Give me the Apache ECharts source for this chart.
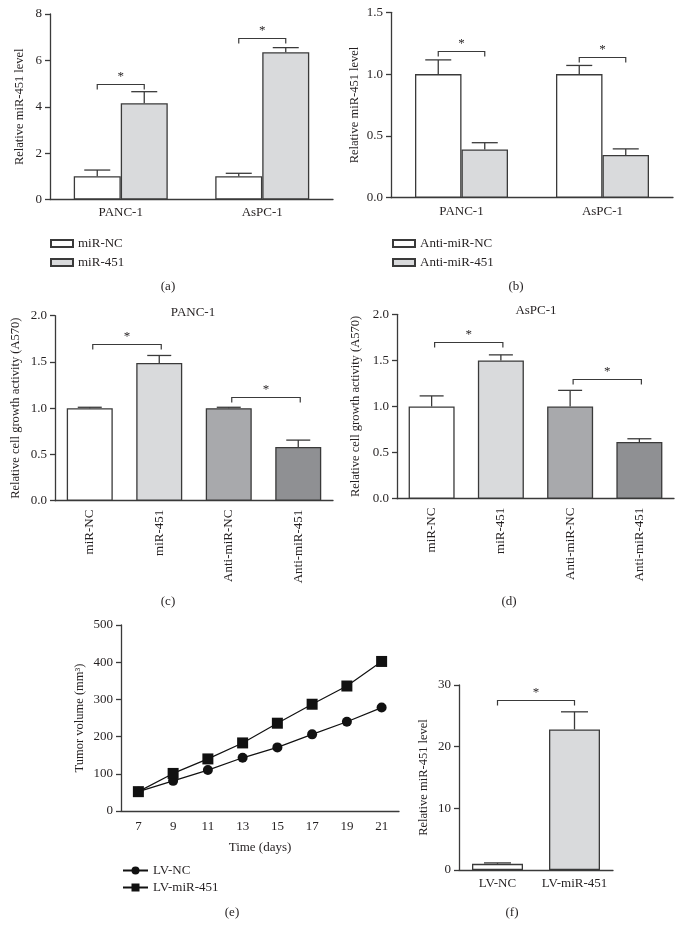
<!DOCTYPE html>
<html>
<head>
<meta charset="utf-8">
<script src="https://cdn.jsdelivr.net/npm/echarts@6/dist/echarts.min.js"></script>
<style>
  html, body { margin: 0; padding: 0; background: #fff; }
  #main { width: 683px; height: 939px; }
</style>
</head>
<body>
<div id="main"></div>
<script>
// ---- data ----
var cellLines = ['PANC-1', 'AsPC-1'];
// (a) overexpression
var aNC = [1.0, 1.0];
var aNCErr = [0.27, 0.13];
var a451 = [4.15, 6.35];
var a451Err = [0.5, 0.2];
var aSig = [5.0, 6.95];          // bracket heights
// (b) inhibition
var bNC = [1.0, 1.0];
var bNCErr = [0.115, 0.07];
var b451 = [0.39, 0.345];
var b451Err = [0.055, 0.05];
var bSig = [1.19, 1.14];
// (c)/(d) growth
var growthCats = ['miR-NC', 'miR-451', 'Anti-miR-NC', 'Anti-miR-451'];
var cVals = [1.0, 1.49, 1.0, 0.58];
var cErr = [0.01, 0.08, 0.01, 0.075];
var cSig = [[0, 1, 1.69], [2, 3, 1.125]];
var dVals = [1.0, 1.5, 1.0, 0.615];
var dErr = [0.115, 0.06, 0.175, 0.035];
var dSig = [[0, 1, 1.70], [2, 3, 1.30]];
// (e) tumor volume
var days = ['7', '9', '11', '13', '15', '17', '19', '21'];
var lvNC = [52, 81, 110, 143, 171, 206, 240, 278];
var lv451 = [52, 101, 140, 183, 236, 287, 336, 402];
// (f) in vivo level
var lvCats = ['LV-NC', 'LV-miR-451'];
var fVals = [1.0, 22.8];
var fErr = [0.15, 2.85];
var fSig = [[0, 1, 27.6]];

// ---- styles ----
var FONT = '"Liberation Serif", "DejaVu Serif", serif';
var FS = 13;
var TXT = '#231f20';
var LINE = '#3a3a3a';
var WHITE = '#ffffff', LIGHT = '#d9dadc', MID = '#a8a9ac', DARK = '#8f9093';

var chart = echarts.init(document.getElementById('main'));

/** 误差线 [idx, mean, mean+err] */
function errData(vals, errs) {
    return vals.map(function (v, i) { return [i, v, +(v + errs[i]).toFixed(3)]; });
}
function errSeries(name, grid, vals, errs, off, cap) {
    return {
        name: name, type: 'custom', xAxisIndex: grid, yAxisIndex: grid, z: 5,
        encode: { x: 0, y: 2 }, silent: true,
        renderItem: function (params, api) {
            var lo = api.coord([api.value(0), api.value(1)]);
            var hi = api.coord([api.value(0), api.value(2)]);
            var x = lo[0] + off;
            var st = { stroke: LINE, lineWidth: 1.3 };
            return { type: 'group', children: [
                { type: 'line', shape: { x1: x, y1: lo[1], x2: x, y2: hi[1] }, style: st },
                { type: 'line', shape: { x1: x - cap / 2, y1: hi[1], x2: x + cap / 2, y2: hi[1] }, style: st }
            ] };
        },
        data: errData(vals, errs)
    };
}
/** 显著性括号 [idx0, idx1, y] */
function sigSeries(name, grid, data, off0, off1) {
    return {
        name: name, type: 'custom', xAxisIndex: grid, yAxisIndex: grid, z: 5,
        encode: { x: 0, y: 2 }, silent: true, clip: false,
        renderItem: function (params, api) {
            var p0 = api.coord([api.value(0), api.value(2)]);
            var p1 = api.coord([api.value(1), api.value(2)]);
            var x0 = p0[0] + off0, x1 = p1[0] + off1, y = Math.round(p0[1]) + 0.5;
            return { type: 'group', children: [
                { type: 'polyline', shape: { points: [[x0, y + 5], [x0, y], [x1, y], [x1, y + 5]] },
                  style: { stroke: LINE, lineWidth: 1.2, fill: null } },
                { type: 'text', x: (x0 + x1) / 2, y: y - 1,
                  style: { text: '*', fill: TXT, font: '13px ' + FONT, align: 'center', verticalAlign: 'bottom' } }
            ] };
        },
        data: data
    };
}
function barItems(vals, colors) {
    return vals.map(function (v, i) { return { value: v, itemStyle: { color: colors[i] } }; });
}
function xCat(grid, cats, extra) {
    var ax = {
        type: 'category', gridIndex: grid, data: cats, boundaryGap: true,
        axisLine: { lineStyle: { color: LINE, width: 1.3 } },
        axisTick: { alignWithLabel: true, length: 5, lineStyle: { color: LINE, width: 1.3 } },
        axisLabel: { color: TXT, fontFamily: FONT, fontSize: FS, margin: 7, interval: 0 },
        splitLine: { show: false }
    };
    for (var k in extra) ax[k] = extra[k];
    return ax;
}
function yVal(grid, min, max, interval, name, gap, digits) {
    return {
        type: 'value', gridIndex: grid, min: min, max: max, interval: interval,
        name: name, nameLocation: 'middle', nameGap: gap,
        nameTextStyle: { color: TXT, fontFamily: FONT, fontSize: 12.5 },
        axisLine: { show: true, lineStyle: { color: LINE, width: 1.3 } },
        axisTick: { show: true, length: 5, lineStyle: { color: LINE, width: 1.3 } },
        axisLabel: { color: TXT, fontFamily: FONT, fontSize: FS, margin: 8,
            formatter: function (v) { return v.toFixed(digits); } },
        splitLine: { show: false }
    };
}
function label(x, y, text) {
    return { type: 'text', x: x, y: y,
        style: { text: text, fill: TXT, font: FS + 'px ' + FONT, align: 'center', verticalAlign: 'middle' } };
}
function legendBox(names, left, top) {
    return { data: names, orient: 'vertical', left: left, top: top, padding: 0,
        icon: 'rect', itemWidth: 22, itemHeight: 7, itemGap: 6, selectedMode: false,
        textStyle: { color: TXT, fontFamily: FONT, fontSize: FS } };
}

var barBorder = { borderColor: LINE, borderWidth: 1.3 };
function withBorder(color) { return { color: color, borderColor: LINE, borderWidth: 1.3 }; }
var rotLabel = { color: TXT, fontFamily: FONT, fontSize: FS, rotate: 90, margin: 9, interval: 0 };

var option = {
    animation: false,
    backgroundColor: '#fff',
    textStyle: { fontFamily: FONT, color: TXT },
    grid: [
        { left: 50, top: 14, width: 283, height: 185.5 },     // a
        { left: 391, top: 12.3, width: 282, height: 185.4 },  // b
        { left: 55, top: 315.7, width: 278, height: 185 },    // c
        { left: 397, top: 314.3, width: 277, height: 184.4 }, // d
        { left: 121, top: 625, width: 278, height: 186 },     // e
        { left: 459, top: 685, width: 154, height: 185 }      // f
    ],
    xAxis: [
        xCat(0, cellLines),
        xCat(1, cellLines),
        xCat(2, growthCats, { axisLabel: rotLabel }),
        xCat(3, growthCats, { axisLabel: rotLabel }),
        xCat(4, days, { name: 'Time (days)', nameLocation: 'middle', nameGap: 30,
            nameTextStyle: { color: TXT, fontFamily: FONT, fontSize: FS },
            axisLabel: { color: TXT, fontFamily: FONT, fontSize: FS, margin: 9 } }),
        xCat(5, lvCats)
    ],
    yAxis: [
        yVal(0, 0, 8, 2, 'Relative miR-451 level', 24, 0),
        yVal(1, 0, 1.5, 0.5, 'Relative miR-451 level', 30, 1),
        yVal(2, 0, 2, 0.5, 'Relative cell growth activity (A570)', 33, 1),
        yVal(3, 0, 2, 0.5, 'Relative cell growth activity (A570)', 35, 1),
        yVal(4, 0, 500, 100, 'Tumor volume (mm³)', 35, 0),
        yVal(5, 0, 30, 10, 'Relative miR-451 level', 29, 0)
    ],
    legend: [
        legendBox(['miR-NC', 'miR-451'], 50, 237),
        legendBox(['Anti-miR-NC', 'Anti-miR-451'], 392, 237),
        { data: ['LV-NC', 'LV-miR-451'], orient: 'vertical', left: 122, top: 864, padding: 0,
          itemWidth: 25, itemHeight: 10, itemGap: 4, selectedMode: false,
          textStyle: { color: TXT, fontFamily: FONT, fontSize: FS } }
    ],
    graphic: [
        label(168, 287, '(a)'), label(516, 287, '(b)'),
        label(168, 602, '(c)'), label(509, 602, '(d)'),
        label(232, 913, '(e)'), label(512, 913, '(f)'),
        label(193, 313, 'PANC-1'), label(536, 311, 'AsPC-1')
    ],
    series: [
        // (a)
        { name: 'miR-NC', type: 'bar', xAxisIndex: 0, yAxisIndex: 0, barWidth: 47, barGap: '0%',
          itemStyle: withBorder(WHITE), data: aNC },
        { name: 'miR-451', type: 'bar', xAxisIndex: 0, yAxisIndex: 0, barWidth: 47, barGap: '0%',
          itemStyle: withBorder(LIGHT), data: a451 },
        errSeries('errA0', 0, aNC, aNCErr, -23.5, 26),
        errSeries('errA1', 0, a451, a451Err, 23.5, 26),
        sigSeries('sigA', 0, aSig.map(function (y, i) { return [i, i, y]; }), -23.5, 23.5),
        // (b)
        { name: 'Anti-miR-NC', type: 'bar', xAxisIndex: 1, yAxisIndex: 1, barWidth: 46.5, barGap: '0%',
          itemStyle: withBorder(WHITE), data: bNC },
        { name: 'Anti-miR-451', type: 'bar', xAxisIndex: 1, yAxisIndex: 1, barWidth: 46.5, barGap: '0%',
          itemStyle: withBorder(LIGHT), data: b451 },
        errSeries('errB0', 1, bNC, bNCErr, -23.25, 26),
        errSeries('errB1', 1, b451, b451Err, 23.25, 26),
        sigSeries('sigB', 1, bSig.map(function (y, i) { return [i, i, y]; }), -23.25, 23.25),
        // (c)
        { name: 'PANC-1 growth', type: 'bar', xAxisIndex: 2, yAxisIndex: 2, barWidth: 46,
          itemStyle: barBorder, data: barItems(cVals, [WHITE, LIGHT, MID, DARK]) },
        errSeries('errC', 2, cVals, cErr, 0, 24),
        sigSeries('sigC', 2, cSig, 3, 2),
        // (d)
        { name: 'AsPC-1 growth', type: 'bar', xAxisIndex: 3, yAxisIndex: 3, barWidth: 46,
          itemStyle: barBorder, data: barItems(dVals, [WHITE, LIGHT, MID, DARK]) },
        errSeries('errD', 3, dVals, dErr, 0, 24),
        sigSeries('sigD', 3, dSig, 3, 2),
        // (e)
        { name: 'LV-NC', type: 'line', xAxisIndex: 4, yAxisIndex: 4, symbol: 'circle', symbolSize: 10,
          lineStyle: { color: '#111', width: 1.2 }, itemStyle: { color: '#111' }, data: lvNC },
        { name: 'LV-miR-451', type: 'line', xAxisIndex: 4, yAxisIndex: 4, symbol: 'rect', symbolSize: 11,
          lineStyle: { color: '#111', width: 1.2 }, itemStyle: { color: '#111' }, data: lv451 },
        // (f)
        { name: 'LV level', type: 'bar', xAxisIndex: 5, yAxisIndex: 5, barWidth: 51,
          itemStyle: barBorder, data: barItems(fVals, [WHITE, LIGHT]) },
        errSeries('errF', 5, fVals, fErr, 0, 27),
        sigSeries('sigF', 5, fSig, 0, 0)
    ]
};

chart.setOption(option);
</script>
</body>
</html>
